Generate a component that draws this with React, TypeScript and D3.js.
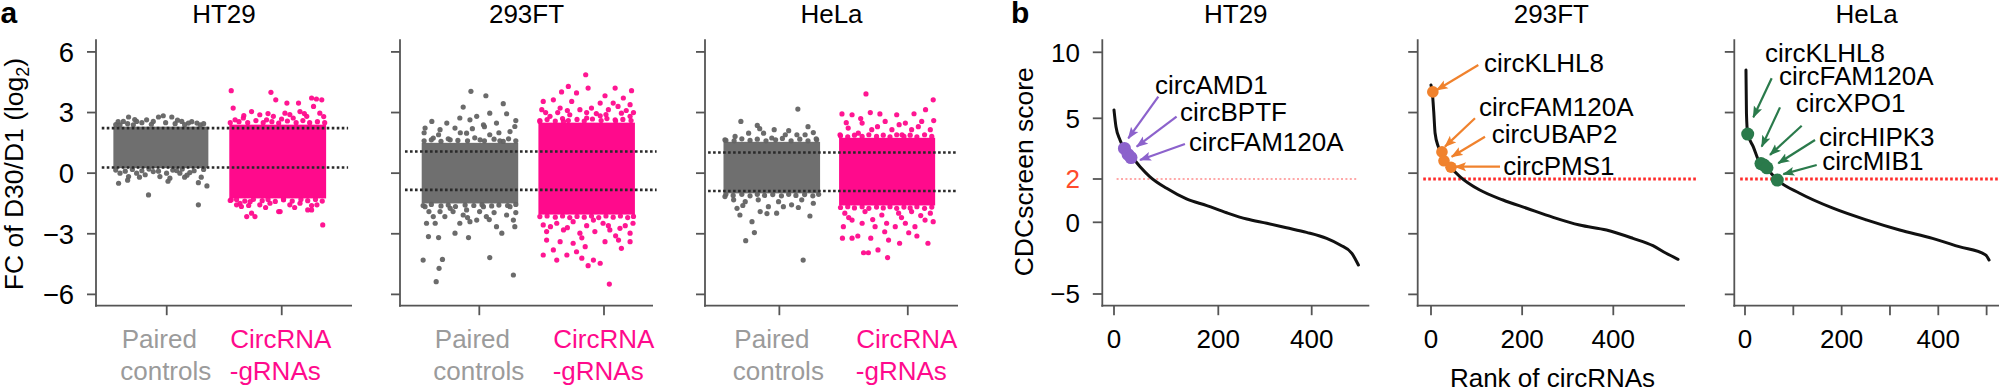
import React from 'react';
import * as d3 from 'd3';

const FONT = '"Liberation Sans", Arial, Helvetica, sans-serif';
const GRAY_PT = '#636363';
const GRAY_TXT = '#9b9b9b';
const PINK = '#ff0a8c';
const AXIS = '#555';
const PURPLE = '#8c62cc';
const ORANGE = '#f0822d';
const GREEN = '#2a7a4b';

// ---------------- panel a data ----------------
const panelATitles = ['HT29', '293FT', 'HeLa'];
const groupLines = [['Paired', 'controls'], ['CircRNA', '-gRNAs']];
const fcTicks = [-6, -3, 0, 3, 6];
const fcTickLabels = ['\u22126', '\u22123', '0', '3', '6'];

const ht29Thresholds = [0.28, 2.23];
const f293Thresholds = [-0.83, 1.07];
const helaThresholds = [-0.88, 1.02];

// jitter cloud centre / half-width (x units), dense core [low, high] (log2 FC)
const ht29Centers = [0.949, 1.965];
const f293Centers = [0.925, 1.861];
const helaCenters = [0.941, 1.839];
const ht29Half = [0.413, 0.421];
const f293Half = [0.387, 0.387];
const helaHalf = [0.376, 0.374];
const ht29Core = [[0.25, 2.3], [-1.25, 2.4]];
const f293Core = [[-1.5, 1.5], [-2.05, 2.5]];
const helaCore = [[-1.0, 1.55], [-1.6, 1.75]];

// sparse points outside the dense core: [jitter (-1..1), log2 FC]
const ht29Ctrl = [[-0.79,2.56],[-0.68,2.78],[-0.51,2.56],[-0.30,2.64],[-0.05,2.78],[0.05,2.84],[0.23,2.78],[0.44,2.56],[0.58,2.48],[0.76,2.48],[0.83,2.39],[-0.86,2.39],[-0.16,2.56],[-0.58,2.39],
  [-0.89,-0.50],[-0.68,-0.17],[-0.51,0],[-0.33,-0.08],[-0.26,-1.08],[-0.02,-0.17],[0.19,-0.25],[0.40,0],[0.61,0.03],[0.79,-0.47],[0.79,-1.57],[0.97,-0.63],[-0.86,0],[0.12,0],[-0.16,0.08],[0.33,0.13],[0.55,-0.1],[-0.45,-0.2],
  [-0.95,2.4],[-0.7,2.45],[-0.4,2.5],[-0.2,2.42],[0.1,2.5],[0.3,2.45],[0.5,2.4],[0.65,2.55],[0.9,2.45],[-0.55,2.65],[0.35,2.62],[-0.9,2.55],
  [-0.95,0.15],[-0.75,0.1],[-0.6,0.18],[-0.4,0.12],[-0.25,0.2],[-0.05,0.1],[0.25,0.15],[0.45,0.2],[0.7,0.12],[0.9,0.18],[0.5,-0.2],[-0.7,-0.35],[0.15,-0.4],[0.85,-0.2]];
const ht29Circ = [[-0.96,4.08],[-0.92,3.22],[-0.14,4.0],[-0.04,3.63],[0.15,2.97],[0.19,3.47],[0.43,3.47],[0.70,3.72],[0.80,3.67],[0.91,3.63],[0.74,3.30],[0.87,2.97],[-0.54,3.05],[-0.37,2.89],[-0.09,2.81],[0.46,3.05],[0.60,2.81],[-0.71,2.73],[-0.88,2.64],[0.32,2.73],[0.08,2.68],[-0.23,2.64],
  [-0.85,-1.57],[-0.64,-2.15],[-0.54,-1.98],[-0.47,-2.15],[0.05,-1.90],[0.70,-1.82],[0.93,-2.56],[-0.78,-1.49],[-0.37,-1.57],[-0.16,-1.49],[0.25,-1.57],[0.46,-1.49],[0.81,-1.57],[0.12,-1.32],[-0.57,-1.41],[-0.96,-1.32],[-0.75,-1.65],[0.02,-1.9],[0.62,-1.82],
  [-0.98,2.5],[-0.8,2.55],[-0.62,2.5],[-0.45,2.6],[-0.3,2.5],[-0.12,2.55],[0.02,2.48],[0.2,2.58],[0.38,2.5],[0.52,2.6],[0.66,2.5],[0.82,2.55],[0.97,2.5],[-0.7,2.85],[0.25,2.9],[0.55,2.95],[0.95,2.8],[-0.2,2.95],
  [-0.98,-1.35],[-0.85,-1.3],[-0.68,-1.38],[-0.5,-1.3],[-0.32,-1.36],[-0.2,-1.3],[-0.05,-1.4],[0.12,-1.3],[0.3,-1.38],[0.48,-1.3],[0.62,-1.36],[0.78,-1.3],[0.92,-1.38],[-0.6,-1.6],[0.35,-1.7],[0.7,-1.6],[-0.25,-1.7]];
const f293Ctrl = [[0.02,4.05],[0.33,3.83],[-0.14,3.27],[0.69,3.44],[0.76,2.94],[0.41,2.97],[-0.79,2.56],[-0.93,2.23],[-0.48,2.48],[-0.21,2.73],[0,2.64],[0.14,2.81],[0.28,2.39],[0.55,2.48],[0.93,2.31],[-0.62,2.15],[-0.31,2.23],[-0.07,1.98],[0.83,2.06],[0.41,1.9],[-0.76,1.74],[-0.41,1.65],[0.21,1.65],[0.69,1.57],
  [-0.93,-1.66],[-0.76,-2.15],[-0.90,-2.48],[-0.72,-2.48],[-0.86,-3.14],[-0.65,-3.19],[-0.31,-2.97],[-0.03,-3.19],[0,-2.40],[-0.52,-2.15],[-0.14,-2.07],[0.14,-2.32],[0.34,-2.15],[0.55,-2.65],[0.66,-2.97],[0.76,-2.07],[0.90,-2.32],[0.93,-2.65],[-0.97,-4.30],[-0.57,-4.27],[-0.64,-4.71],[-0.70,-5.37],[0.41,-4.18],[0.90,-5.04],[-0.41,-1.74],[0.28,-1.66],[0.83,-1.66],[-0.07,-1.82],[-0.21,-2.48],[-0.62,-1.90],
  [-0.95,1.6],[-0.8,1.65],[-0.6,1.58],[-0.45,1.7],[-0.25,1.62],[-0.05,1.6],[0.1,1.75],[0.3,1.6],[0.5,1.68],[0.62,1.6],[0.8,1.7],[0.95,1.6],[-0.65,1.9],[0.05,2.2],[0.6,2.0],[-0.2,2.0],[0.95,2.6],[-0.95,2.0],[0.3,2.3],
  [-0.97,-1.6],[-0.8,-1.55],[-0.6,-1.62],[-0.45,-1.58],[-0.3,-1.65],[-0.1,-1.58],[0.08,-1.6],[0.25,-1.56],[0.45,-1.62],[0.6,-1.58],[0.78,-1.6],[0.95,-1.55],[-0.85,-1.9],[-0.35,-1.9],[0.2,-1.9],[0.5,-1.95],[0.95,-1.95],[-0.05,-2.2],[0.4,-2.3]];
const f293Circ = [[-0.02,4.87],[-0.38,4.29],[0.03,4.21],[0.59,4.21],[0.93,4.08],[-0.52,4.02],[-0.21,3.97],[0.38,3.83],[0.76,3.72],[-0.90,3.55],[-0.69,3.63],[-0.31,3.55],[0.28,3.47],[0.55,3.47],[0.90,3.39],[-0.93,3.14],[-0.55,3.22],[-0.14,3.14],[0.10,3.22],[0.45,3.14],[0.72,2.97],[-0.76,2.81],[-0.35,2.89],[0,2.73],[0.28,2.84],[0.90,2.81],[0.59,2.64],[-0.97,2.56],[-0.48,2.56],
  [-0.90,-4.05],[-0.69,-3.80],[-0.62,-4.30],[-0.41,-4.05],[-0.21,-3.89],[-0.10,-4.21],[0.03,-4.58],[0.14,-4.30],[0.28,-4.46],[0.47,-5.49],[-0.83,-3.31],[-0.55,-3.39],[-0.28,-3.47],[-0.03,-3.64],[0.38,-3.39],[0.66,-3.31],[0.72,-3.72],[0.90,-3.39],[0.90,-2.97],[-0.83,-2.89],[-0.48,-2.81],[-0.14,-2.97],[0.17,-2.89],[0.48,-2.81],[0.69,-2.73],[-0.62,-2.48],[-0.28,-2.40],[0.34,-2.48],[-0.90,-2.56],[0.96,-2.48],[0.14,-2.32],
  [-0.97,2.6],[-0.82,2.65],[-0.65,2.58],[-0.5,2.7],[-0.38,2.6],[-0.2,2.66],[-0.05,2.58],[0.12,2.68],[0.3,2.6],[0.42,2.7],[0.6,2.58],[0.75,2.66],[0.92,2.6],[-0.85,3.0],[-0.6,3.0],[-0.4,3.1],[0.0,3.0],[0.2,2.95],[0.4,2.9],[0.65,3.3],[0.82,3.1],[0.97,3.0],
  [-0.97,-2.15],[-0.82,-2.12],[-0.65,-2.18],[-0.5,-2.12],[-0.35,-2.2],[-0.2,-2.14],[-0.05,-2.18],[0.1,-2.12],[0.25,-2.2],[0.4,-2.12],[0.55,-2.18],[0.7,-2.12],[0.85,-2.2],[0.97,-2.14],[-0.75,-2.65],[-0.4,-2.7],[0.0,-2.6],[0.45,-2.6],[0.8,-2.6],[-0.1,-3.2],[0.6,-3.1]];
const helaCtrl = [[0.54,3.17],[-0.64,2.56],[-0.30,2.36],[0.05,2.15],[-0.76,1.82],[-0.48,1.98],[-0.17,1.98],[0.28,1.90],[0.52,1.90],[0.69,1.90],[0.86,2.01],[-0.97,1.65],[0,1.74],[0.93,1.65],
  [-0.97,-1.16],[-0.72,-1.74],[-0.66,-2.07],[-0.41,-2.40],[-0.36,-2.94],[-0.54,-3.34],[0.65,-4.30],[-0.24,-1.90],[-0.07,-1.66],[0.10,-1.98],[0.24,-1.66],[0.41,-1.57],[0.79,-2.12],[0.86,-1.49],[-0.79,-1.32],[-0.55,-1.41],[-0.28,-1.32],[0.14,-1.41],[0.62,-1.32],
  [-0.95,1.62],[-0.78,1.6],[-0.62,1.7],[-0.45,1.62],[-0.3,1.68],[-0.12,1.6],[0.08,1.65],[0.22,1.72],[0.4,1.6],[0.58,1.68],[0.75,1.6],[0.92,1.7],[-0.25,2.2],[0.35,2.1],[0.75,2.3],
  [-0.95,-1.05],[-0.8,-1.1],[-0.62,-1.05],[-0.45,-1.12],[-0.3,-1.05],[-0.15,-1.1],[0.02,-1.06],[0.2,-1.12],[0.35,-1.05],[0.5,-1.1],[0.68,-1.06],[0.85,-1.12],[0.97,-1.05],[-0.6,-1.6],[0.55,-1.7],[-0.1,-2.0]];
const helaCirc = [[-0.44,3.92],[0.96,3.63],[-0.94,2.93],[-0.73,2.89],[-0.35,3.0],[-0.15,2.93],[0.20,2.89],[0.56,2.94],[0.80,3.14],[-0.52,2.48],[-0.04,2.56],[0.38,2.48],[0.72,2.56],[-0.81,2.23],[-0.32,2.15],[0.10,2.15],[0.51,2.15],[0.90,2.15],[-0.98,1.90],[-0.60,1.98],[0.31,1.90],
  [-0.91,-2.65],[-0.73,-3.22],[-0.93,-3.22],[-0.61,-3.11],[-0.49,-3.94],[-0.39,-3.94],[-0.19,-3.80],[0.01,-4.18],[-0.34,-3.22],[0.03,-3.31],[0.26,-3.47],[0.62,-3.11],[0.85,-3.47],[0.96,-2.40],[-0.73,-2.32],[-0.52,-2.48],[-0.25,-2.65],[-0.01,-2.48],[0.17,-2.65],[0.38,-2.48],[0.58,-2.65],[0.79,-2.32],[-0.88,-1.98],[-0.46,-1.90],[-0.11,-2.07],[0.24,-1.98],[0.51,-1.90],[0.90,-1.98],
  [-0.97,1.85],[-0.82,1.8],[-0.68,1.88],[-0.52,1.82],[-0.38,1.9],[-0.22,1.82],[-0.08,1.88],[0.06,1.8],[0.2,1.9],[0.35,1.82],[0.48,1.88],[0.62,1.8],[0.78,1.9],[0.93,1.82],[-0.85,2.5],[-0.2,2.3],[0.25,2.4],[0.65,2.3],[0.97,2.6],[-0.55,2.7],
  [-0.97,-1.7],[-0.82,-1.66],[-0.68,-1.72],[-0.52,-1.66],[-0.38,-1.74],[-0.22,-1.68],[-0.08,-1.72],[0.06,-1.66],[0.2,-1.74],[0.35,-1.68],[0.48,-1.72],[0.62,-1.66],[0.78,-1.74],[0.93,-1.68],[-0.8,-2.2],[-0.3,-2.3],[0.3,-2.2],[0.7,-2.1],[-0.05,-2.9],[0.45,-2.95]];

// ---------------- panel b data ----------------
const panelBTitles = ['HT29', '293FT', 'HeLa'];
const scoreTicks = [-5, 0, 2, 5, 10];
const rankTicksLabeled = [0, 200, 400];
const helaRankTicks = [0, 100, 200, 300, 400, 500];
const scoreThreshold = 2;

const ht29Rank = [0, 3.8, 11.5, 21, 34, 50, 69, 101, 139, 178, 218, 261, 304, 346, 389, 432, 461, 486, 500];
const ht29Score = [5.63, 4.58, 3.93, 3.43, 3.10, 2.61, 2.11, 1.57, 1.08, 0.77, 0.44, 0.15, -0.07, -0.38, -0.70, -1.12, -1.58, -2.16, -2.98];
const f293Rank = [0, 3, 6, 9, 16, 23, 31, 45, 64, 107, 158, 210, 268, 326, 385, 443, 487, 516, 542];
const f293Score = [7.52, 6.9, 5.5, 4.26, 3.60, 3.27, 2.94, 2.53, 2.11, 1.49, 1.03, 0.65, 0.23, -0.19, -0.54, -1.12, -1.63, -2.16, -2.58];
const helaRank = [2, 3, 5.5, 17, 31, 41, 67, 113, 182, 251, 320, 388, 443, 498, 505];
const helaScore = [8.66, 5.38, 4.26, 3.60, 2.78, 2.61, 1.95, 1.34, 0.65, 0.11, -0.54, -1.12, -1.70, -2.28, -2.63];

const ht29Names = ['circAMD1', 'circBPTF', 'circFAM120A'];
const ht29Hits = [[20, 3.51], [27, 3.21], [32.6, 3.06]];
const ht29LabelAt = [[78.6, 6.84], [126.6, 4.88], [143.8, 3.40]];
const ht29ArrowFrom = [[85, 6.64], [120, 5.12], [136, 3.73]];
const ht29ArrowTo = [[27.4, 4.01], [43.5, 3.60], [49.9, 2.94]];

const f293Names = ['circKLHL8', 'circFAM120A', 'circUBAP2', 'circPMS1'];
const f293Hits = [[4, 7.0], [24, 3.34], [28.5, 2.90], [43.9, 2.58]];
const f293LabelAt = [[116.3, 8.53], [105.3, 5.20], [133.2, 3.76], [158.6, 2.20]];
const f293ArrowFrom = [[103.8, 9.04], [96.5, 5.0], [118.5, 4.09], [151.4, 2.61]];
const f293ArrowTo = [[12.5, 7.14], [30.7, 3.60], [45.4, 3.10], [52.7, 2.61]];

const helaNames = ['circKLHL8', 'circFAM120A', 'circXPO1', 'circHIPK3', 'circMIB1'];
const helaHits = [[5.6, 4.22], [33, 2.76], [39.3, 2.69], [45.5, 2.55], [66.8, 1.95]];
const helaLabelAt = [[41.4, 9.29], [70.4, 7.52], [104.9, 5.45], [153.1, 3.65], [159.9, 2.46]];
const helaArrowFrom = [[55.2, 8.03], [72.4, 5.83], [117.3, 4.63], [144.9, 3.93], [148.4, 2.69]];
const helaArrowTo = [[17.2, 5.08], [34.6, 3.60], [51.7, 3.19], [68.9, 2.78], [79.3, 2.24]];

// ---------------- layout ----------------
const A_TOP = 40.2, A_BOTTOM = 305.7;
const aFrames = [
  { left: 96, right: 352, xd: [0.385, 2.611] },
  { left: 400, right: 653, xd: [0.364, 2.393] },
  { left: 705, right: 958, xd: [0.421, 2.391] },
];
const yA = d3.scaleLinear().domain([-6.56, 6.58]).range([A_BOTTOM, A_TOP]);
const yScore = d3.scaleLinear().domain([-5, 0, 2, 5, 10]).range([294, 222.3, 179, 118.3, 52.3]);
const bFrames = [
  { left: 1102.3, right: 1369.3 },
  { left: 1417.7, right: 1685 },
  { left: 1734.3, right: 1999 },
];
const xB = [
  d3.scaleLinear().domain([0, 200, 400]).range([1114, 1218.3, 1311.7]),
  d3.scaleLinear().domain([0, 400]).range([1431, 1613.3]),
  d3.scaleLinear().domain([0, 400]).range([1745, 1938.3]),
];

const panelAData = [
  { centers: ht29Centers, half: ht29Half, core: ht29Core, pts: [ht29Ctrl, ht29Circ], thr: ht29Thresholds, thrX: [0.435, 2.577], lblOff: [46.5, 52] },
  { centers: f293Centers, half: f293Half, core: f293Core, pts: [f293Ctrl, f293Circ], thr: f293Thresholds, thrX: [0.404, 2.422], lblOff: [46, 51.3] },
  { centers: helaCenters, half: helaHalf, core: helaCore, pts: [helaCtrl, helaCirc], thr: helaThresholds, thrX: [0.445, 2.39], lblOff: [46.5, 52] },
];

const panelBData = [
  { rank: ht29Rank, score: ht29Score, names: ht29Names, hits: ht29Hits, lab: ht29LabelAt, from: ht29ArrowFrom, to: ht29ArrowTo, color: PURPLE, r: 6.5, marker: 'arrP', thrRange: [5, 500], thrStyle: { stroke: '#ff8c8c', w: 1.6, dash: '2 2.4' } },
  { rank: f293Rank, score: f293Score, names: f293Names, hits: f293Hits, lab: f293LabelAt, from: f293ArrowFrom, to: f293ArrowTo, color: ORANGE, r: 5.8, marker: 'arrO', thrRange: [-17, 583], thrStyle: { stroke: '#ff2a2a', w: 3, dash: '2.6 2.4' } },
  { rank: helaRank, score: helaScore, names: helaNames, hits: helaHits, lab: helaLabelAt, from: helaArrowFrom, to: helaArrowTo, color: GREEN, r: 6.5, marker: 'arrG', thrRange: [-10, 528], thrStyle: { stroke: '#ff2a2a', w: 3, dash: '2.6 2.4' } },
];

function PanelA({ i }: { i: number }) {
  const f = aFrames[i];
  const d = panelAData[i];
  const x = d3.scaleLinear().domain(f.xd).range([f.left, f.right]);
  const colors = [GRAY_PT, PINK];
  return (
    <g>
      <text x={(f.left + f.right) / 2} y={23.3} textAnchor="middle" fontSize={26}>{panelATitles[i]}</text>
      {[0, 1].map((g) => {
        const c = d.centers[g], h = d.half[g], core = d.core[g];
        return (
          <g key={g} fill={colors[g]}>
            <rect x={x(c - h)} width={x(c + h) - x(c - h)} y={yA(core[1])} height={yA(core[0]) - yA(core[1])} fillOpacity={g === 0 ? 0.92 : 1} />
            {d.pts[g].map((p, k) => (
              <circle key={k} cx={x(c + p[0] * h)} cy={yA(p[1])} r={2.6} fillOpacity={0.95} />
            ))}
          </g>
        );
      })}
      {d.thr.map((t, k) => (
        <line key={k} x1={x(d.thrX[0])} x2={x(d.thrX[1])} y1={yA(t)} y2={yA(t)} stroke="#2a2a2a" strokeWidth={2.6} strokeDasharray="2.6 2.4" />
      ))}
      <line x1={f.left} x2={f.left} y1={A_TOP - 1} y2={A_BOTTOM + 1} stroke={AXIS} strokeWidth={1.8} />
      <line x1={f.left - 0.9} x2={f.right} y1={A_BOTTOM} y2={A_BOTTOM} stroke={AXIS} strokeWidth={1.8} />
      {fcTicks.map((t, k) => (
        <g key={k}>
          <line x1={f.left - 9} x2={f.left} y1={yA(t)} y2={yA(t)} stroke={AXIS} strokeWidth={1.8} />
          {i === 0 && (
            <text x={74} y={yA(t)} dy="0.36em" textAnchor="end" fontSize={27.5}>{fcTickLabels[k]}</text>
          )}
        </g>
      ))}
      {[1, 2].map((v, g) => (
        <g key={g}>
          <line x1={x(v)} x2={x(v)} y1={A_BOTTOM} y2={A_BOTTOM + 9.5} stroke={AXIS} strokeWidth={1.8} />
          <text x={x(v) - d.lblOff[g]} y={348.3} fontSize={26} fill={g === 0 ? GRAY_TXT : PINK}>
            <tspan x={x(v) - d.lblOff[g] + (g === 0 ? 1.5 : 0.5)}>{groupLines[g][0]}</tspan>
            <tspan x={x(v) - d.lblOff[g]} dy={31.7}>{groupLines[g][1]}</tspan>
          </text>
        </g>
      ))}
    </g>
  );
}

function PanelB({ i }: { i: number }) {
  const f = bFrames[i];
  const d = panelBData[i];
  const x = xB[i];
  const line = d3.line<number>().x((_, k) => x(d.rank[k])).y((_, k) => yScore(d.score[k])).curve(d3.curveMonotoneX);
  const rankTicks = i === 2 ? helaRankTicks : rankTicksLabeled;
  return (
    <g>
      <text x={(f.left + f.right) / 2} y={23.3} textAnchor="middle" fontSize={26}>{panelBTitles[i]}</text>
      <line x1={x(d.thrRange[0])} x2={x(d.thrRange[1])} y1={yScore(scoreThreshold)} y2={yScore(scoreThreshold)} stroke={d.thrStyle.stroke} strokeWidth={d.thrStyle.w} strokeDasharray={d.thrStyle.dash} />
      <path d={line(d.rank) || ''} fill="none" stroke="#111" strokeWidth={3} strokeLinejoin="round" strokeLinecap="round" />
      {d.hits.map((p, k) => (
        <circle key={k} cx={x(p[0])} cy={yScore(p[1])} r={d.r} fill={d.color} />
      ))}
      {d.from.map((p, k) => (
        <line key={k} x1={x(p[0])} y1={yScore(p[1])} x2={x(d.to[k][0])} y2={yScore(d.to[k][1])} stroke={d.color} strokeWidth={2.2} markerEnd={`url(#${d.marker})`} />
      ))}
      {d.names.map((n, k) => (
        <text key={n} x={x(d.lab[k][0])} y={yScore(d.lab[k][1])} fontSize={26}>{n}</text>
      ))}
      <line x1={f.left} x2={f.left} y1={A_TOP - 1} y2={A_BOTTOM + 1} stroke={AXIS} strokeWidth={1.8} />
      <line x1={f.left - 0.9} x2={f.right} y1={A_BOTTOM} y2={A_BOTTOM} stroke={AXIS} strokeWidth={1.8} />
      {i === 0
        ? scoreTicks.map((t) => (
            <g key={t}>
              <line x1={f.left - 9.5} x2={f.left} y1={yScore(t)} y2={yScore(t)} stroke={AXIS} strokeWidth={1.8} />
              <text x={1080} y={yScore(t)} dy="0.36em" textAnchor="end" fontSize={26} fill={t === scoreThreshold ? '#ff4b2b' : '#000'}>{t < 0 ? '\u2212' + Math.abs(t) : String(t)}</text>
            </g>
          ))
        : fcTicks.map((t) => (
            <line key={t} x1={f.left - 9.5} x2={f.left} y1={yA(t)} y2={yA(t)} stroke={AXIS} strokeWidth={1.8} />
          ))}
      {rankTicks.map((t) => (
        <g key={t}>
          <line x1={x(t)} x2={x(t)} y1={A_BOTTOM} y2={A_BOTTOM + 9.5} stroke={AXIS} strokeWidth={1.8} />
          {rankTicksLabeled.includes(t) && (
            <text x={x(t)} y={348.3} textAnchor="middle" fontSize={26}>{t}</text>
          )}
        </g>
      ))}
    </g>
  );
}

function Arrow({ id, color }: { id: string; color: string }) {
  return (
    <marker id={id} viewBox="0 0 12 10" refX={11} refY={5} markerWidth={12} markerHeight={10} markerUnits="userSpaceOnUse" orient="auto">
      <path d="M0,0.5 L12,5 L0,9.5 L2.5,5 Z" fill={color} />
    </marker>
  );
}

export default function App() {
  return (
    <svg width={2001} height={390} style={{ position: 'absolute', left: 0, top: 0, background: '#fff' }} fontFamily={FONT}>
      <defs>
        <Arrow id="arrP" color={PURPLE} />
        <Arrow id="arrO" color={ORANGE} />
        <Arrow id="arrG" color={GREEN} />
      </defs>
      <rect width={2001} height={390} fill="#fff" />
      <text x={0.5} y={23.3} fontSize={30} fontWeight="bold">a</text>
      <text x={1011} y={23.3} fontSize={30} fontWeight="bold">b</text>
      <text transform="translate(23,174) rotate(-90)" textAnchor="middle" fontSize={26.5}>
        FC of D30/D1 (log<tspan fontSize={18} dy={6}>2</tspan><tspan dy={-6}>)</tspan>
      </text>
      <text transform="translate(1032.7,171.7) rotate(-90)" textAnchor="middle" fontSize={26.5}>CDCscreen score</text>
      <text x={1552.5} y={386.5} textAnchor="middle" fontSize={26}>Rank of circRNAs</text>
      {[0, 1, 2].map((i) => <PanelA key={i} i={i} />)}
      {[0, 1, 2].map((i) => <PanelB key={i} i={i} />)}
    </svg>
  );
}
